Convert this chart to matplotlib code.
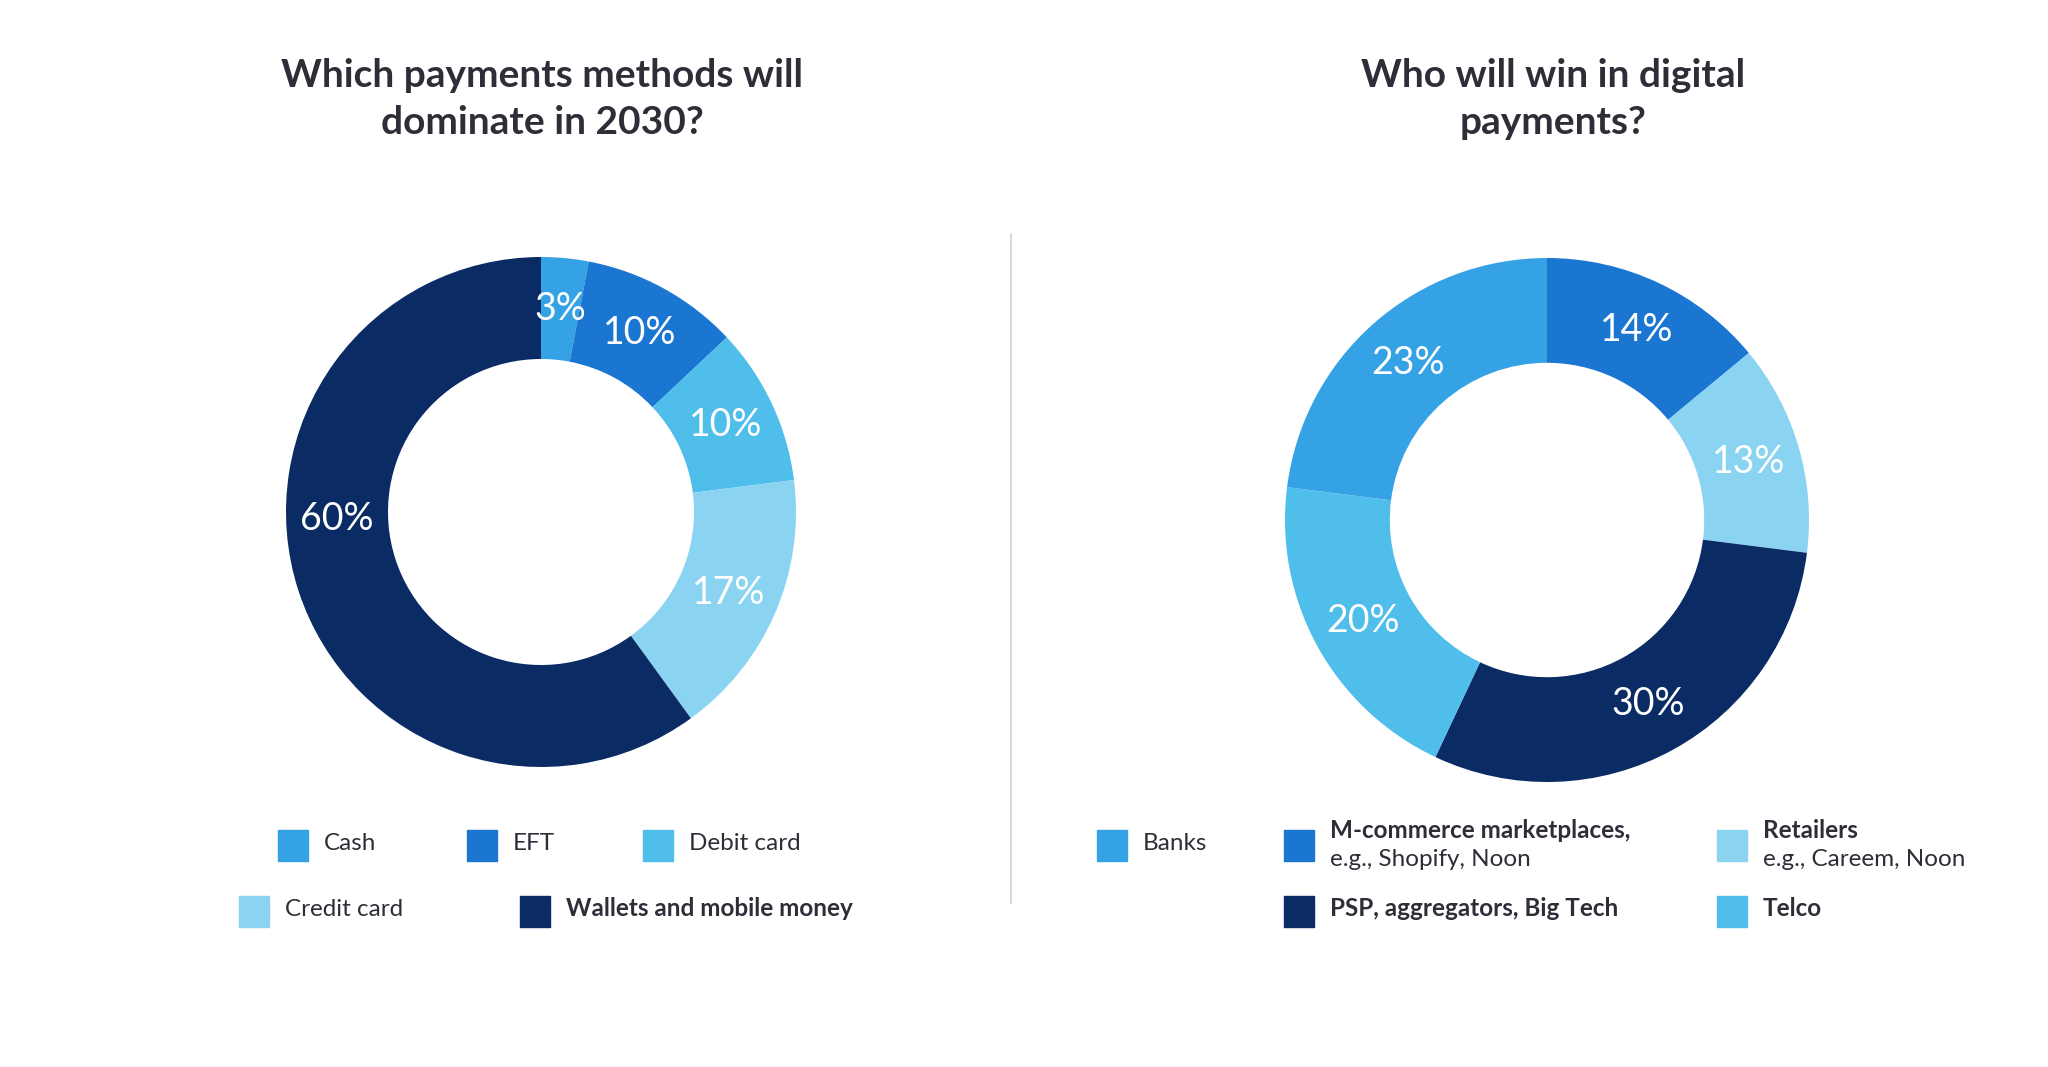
import matplotlib
matplotlib.use("Agg")
import numpy as np
import matplotlib.pyplot as plt
from matplotlib.patches import Rectangle
from matplotlib.lines import Line2D

plt.rcParams['font.family'] = ['Lato', 'DejaVu Sans']

W, H = 2048, 1067
TXT = '#2e2e38'

# left chart
pay_labels = ['Cash', 'EFT', 'Debit card', 'Credit card', 'Wallets and mobile money']
pay_values = [3, 10, 10, 17, 60]
pay_colors = ['#36a2e6', '#1a76d1', '#4fbeeb', '#8ad4f2', '#0a2b63']

# right chart (clockwise from top)
win_labels = ['M-commerce marketplaces,', 'Retailers', 'PSP, aggregators, Big Tech', 'Telco', 'Banks']
win_values = [14, 13, 30, 20, 23]
win_colors = ['#1a76d1', '#8ad4f2', '#0a2b63', '#4fbeeb', '#36a2e6']


def fx(x):
    return x / W


def fy(y):
    return 1 - y / H


fig = plt.figure(figsize=(W / 100, H / 100), dpi=100)
fig.patch.set_facecolor('white')


def donut(cx, cy, r, values, colors, moved=None):
    ax = fig.add_axes([fx(cx - r), fy(cy + r), 2 * r / W, 2 * r / H])
    wedges, texts, autotexts = ax.pie(
        values, colors=colors, startangle=90, counterclock=False, radius=1,
        wedgeprops=dict(width=0.4, linewidth=0),
        autopct=lambda p: '%.0f%%' % p, pctdistance=0.8,
        textprops=dict(color='white', fontsize=27))
    # the big slice label sits at the left side in the original
    if moved:
        for i, ang in moved.items():
            a = np.radians(ang)
            autotexts[i].set_position((0.8 * np.cos(a), 0.8 * np.sin(a)))
    ax.set_xlim(-1, 1)
    ax.set_ylim(-1, 1)
    ax.set_aspect('equal')
    ax.axis('off')
    return ax


donut(541, 512, 255, pay_values, pay_colors, moved={4: -178})
donut(1547, 520, 262, win_values, win_colors)

fig.text(fx(542), fy(99), 'Which payments methods will\ndominate in 2030?', ha='center', va='center',
         fontsize=28, fontweight='bold', color=TXT, linespacing=1.38)
fig.text(fx(1553), fy(99), 'Who will win in digital\npayments?', ha='center', va='center',
         fontsize=28, fontweight='bold', color=TXT, linespacing=1.38)

# divider
fig.add_artist(Line2D([fx(1011), fx(1011)], [fy(234), fy(903)], color='#d0d0d0', lw=1.2))


def key(x, y, color, text, bold=False, sub=None):
    fig.add_artist(Rectangle((fx(x), fy(y + 15.5)), 30 / W, 31 / H, color=color,
                             transform=fig.transFigure))
    if sub is None:
        fig.text(fx(x + 46), fy(y - 2), text, ha='left', va='center', fontsize=17.5, color=TXT,
                 fontweight='bold' if bold else 'normal')
    else:
        fig.text(fx(x + 46), fy(y - 15), text, ha='left', va='center', fontsize=17.5, color=TXT,
                 fontweight='bold')
        fig.text(fx(x + 46), fy(y + 14), sub, ha='left', va='center', fontsize=17.5, color=TXT)


key(278, 845, pay_colors[0], pay_labels[0])
key(467, 845, pay_colors[1], pay_labels[1])
key(643, 845, pay_colors[2], pay_labels[2])
key(239, 911, pay_colors[3], pay_labels[3])
key(520, 911, pay_colors[4], pay_labels[4], bold=True)

key(1097, 845, win_colors[4], win_labels[4])
key(1284, 845, win_colors[0], win_labels[0], sub='e.g., Shopify, Noon')
key(1717, 845, win_colors[1], win_labels[1], sub='e.g., Careem, Noon')
key(1284, 911, win_colors[2], win_labels[2], bold=True)
key(1717, 911, win_colors[3], win_labels[3], bold=True)

fig.savefig('out.png', dpi=100, facecolor='white')
